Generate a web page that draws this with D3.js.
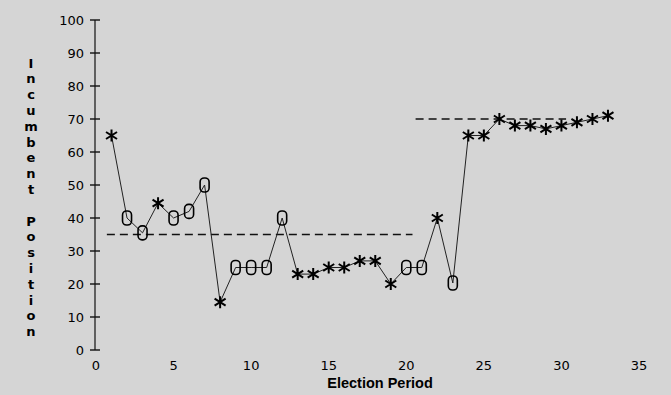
<!DOCTYPE html>
<html>
<head>
<meta charset="utf-8">
<script src="https://cdn.jsdelivr.net/npm/d3@7"></script>
<style>
  html, body { margin: 0; padding: 0; background: #fff; }
  svg { display: block; font-family: "DejaVu Sans", sans-serif; }
</style>
</head>
<body>
<div id="chart"></div>
<script>
const WIDTH = 671;
const HEIGHT = 395;

// one point per election period
const periods = [1, 2, 3, 4, 5, 6, 7, 8, 9, 10, 11, 12, 13, 14, 15, 16, 17,
  18, 19, 20, 21, 22, 23, 24, 25, 26, 27, 28, 29, 30, 31, 32, 33];
const positions = [65, 40, 35.5, 44.5, 40, 42, 50, 14.5, 25, 25, 25, 40, 23,
  23, 25, 25, 27, 27, 20, 25, 25, 40, 20.3, 65, 65, 70, 68, 68, 67, 68, 69,
  70, 71];
// 's' = asterisk, 'o' = rounded box
const markers = ['s', 'o', 'o', 's', 'o', 'o', 'o', 's', 'o', 'o', 'o', 'o',
  's', 's', 's', 's', 's', 's', 's', 'o', 'o', 's', 'o', 's', 's', 's', 's',
  's', 's', 's', 's', 's', 's'];

// dashed reference levels
const levelFrom = [0.7, 20.6];
const levelTo = [20.4, 30.3];
const levelValue = [35, 70];

const yTicks = [0, 10, 20, 30, 40, 50, 60, 70, 80, 90, 100];
const xTicks = [0, 5, 10, 15, 20, 25, 30, 35];
const yTitle = 'Incumbent Position';
const xTitle = 'Election Period';


const svg = d3.select('#chart').append('svg')
  .attr('width', WIDTH)
  .attr('height', HEIGHT);

svg.append('rect')
  .attr('width', WIDTH)
  .attr('height', HEIGHT)
  .attr('fill', '#d5d5d5');

const x = d3.scaleLinear().domain([0, 35]).range([96, 639]);
const y = d3.scaleLinear().domain([0, 100]).range([350, 20]);

// y axis: ticks cross the line
const yAxis = svg.append('g').attr('transform', 'translate(95,0)');
yAxis.append('line')
  .attr('y1', y(0)).attr('y2', y(100))
  .attr('stroke', '#111').attr('stroke-width', 1.2);
yAxis.selectAll('line.tick')
  .data(yTicks)
  .join('line')
    .attr('class', 'tick')
    .attr('x1', -5).attr('x2', 5)
    .attr('y1', d => y(d)).attr('y2', d => y(d))
    .attr('stroke', '#111').attr('stroke-width', 1.4);
yAxis.selectAll('text')
  .data(yTicks)
  .join('text')
    .attr('x', -11)
    .attr('y', d => y(d))
    .attr('dy', '0.36em')
    .attr('text-anchor', 'end')
    .attr('font-size', 13)
    .attr('fill', '#000')
    .text(d => d);

// x axis has labels only
svg.append('g').selectAll('text')
  .data(xTicks)
  .join('text')
    .attr('x', d => x(d))
    .attr('y', 370)
    .attr('text-anchor', 'middle')
    .attr('font-size', 13)
    .attr('fill', '#000')
    .text(d => d);

svg.append('text')
  .attr('x', 380)
  .attr('y', 388)
  .attr('text-anchor', 'middle')
  .attr('font-family', '"Liberation Sans", Arial, sans-serif')
  .attr('font-size', 14.5)
  .attr('font-weight', 'bold')
  .attr('fill', '#000')
  .text(xTitle);

// stacked vertical title, one letter per line
svg.append('g').selectAll('text')
  .data(yTitle.split(''))
  .join('text')
    .attr('x', 31)
    .attr('y', (d, i) => 63 + i * 15.8)
    .attr('dy', '0.35em')
    .attr('text-anchor', 'middle')
    .attr('font-size', 13)
    .attr('font-weight', 'bold')
    .attr('fill', '#000')
    .text(d => d);

// dashed levels
svg.append('g').selectAll('line')
  .data(levelValue)
  .join('line')
    .attr('x1', (d, i) => x(levelFrom[i]))
    .attr('x2', (d, i) => x(levelTo[i]))
    .attr('y1', d => y(d)).attr('y2', d => y(d))
    .attr('stroke', '#111')
    .attr('stroke-width', 1.5)
    .attr('stroke-dasharray', '8,5');

// connecting line
const points = periods.map((p, i) => [p, positions[i]]);
svg.append('path')
  .datum(points)
  .attr('fill', 'none')
  .attr('stroke', '#222')
  .attr('stroke-width', 1)
  .attr('d', d3.line().x(d => x(d[0])).y(d => y(d[1])));

// markers
const starPath = 'M0,-6L0,6M-5.5,-3.5L5.5,3.5M-5.5,3.5L5.5,-3.5';
const marks = svg.append('g').selectAll('g')
  .data(points)
  .join('g')
    .attr('transform', d => `translate(${x(d[0])},${y(d[1])})`);

marks.filter((d, i) => markers[i] === 's')
  .append('path')
    .attr('d', starPath)
    .attr('fill', 'none')
    .attr('stroke', '#000')
    .attr('stroke-width', 2);

marks.filter((d, i) => markers[i] === 'o')
  .append('rect')
    .attr('x', -4.5).attr('y', -7)
    .attr('width', 9).attr('height', 14)
    .attr('rx', 4)
    .attr('fill', 'none')
    .attr('stroke', '#000')
    .attr('stroke-width', 1.6);
</script>
</body>
</html>
